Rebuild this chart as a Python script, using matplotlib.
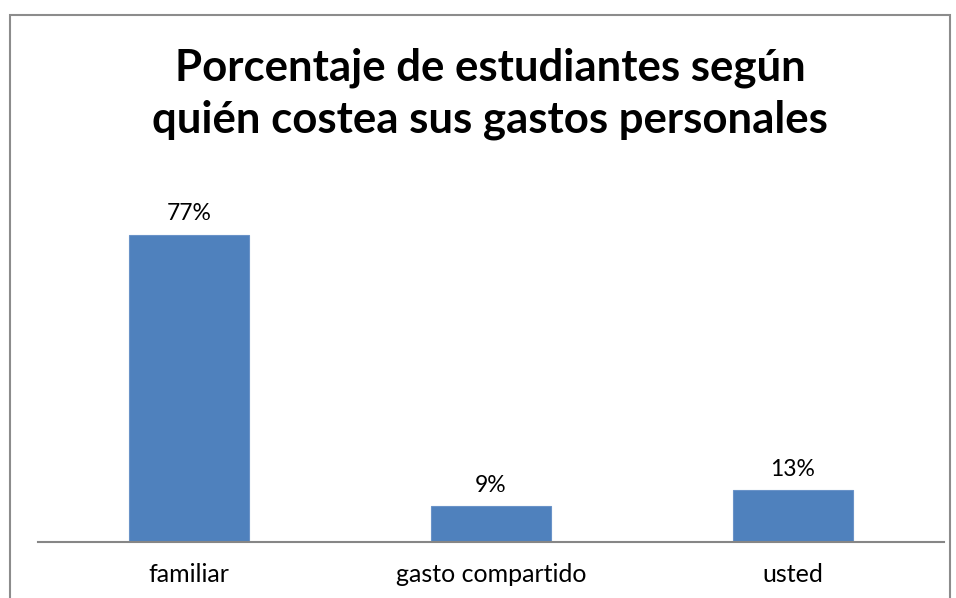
import matplotlib
matplotlib.use("Agg")
import matplotlib.pyplot as plt
from matplotlib.patches import Rectangle

categories = ["familiar", "gasto compartido", "usted"]
values = [77, 9, 13]
labels = ["77%", "9%", "13%"]
title_lines = ["Porcentaje de estudiantes según", "quién costea sus gastos personales"]

plt.rcParams['font.family'] = ['Lato', 'DejaVu Sans']

W, H = 956, 598
fig = plt.figure(figsize=(W/100, H/100), dpi=100)
fig.patch.set_facecolor("white")

# border
fig.add_artist(Rectangle((10/W, -0.1), 940/W, 1.1 - 15/H, transform=fig.transFigure,
                         fill=False, edgecolor="#8c8c8c", linewidth=1.5))

left, right = 38, 944
bottom = 542
ymax = 90
px_per = 307/77
top = bottom - ymax*px_per
ax = fig.add_axes([left/W, 1 - bottom/H, (right-left)/W, (bottom-top)/H])
x = range(len(categories))
ax.bar(x, values, width=0.4, color="#4f81bd", edgecolor="#6a93c8", linewidth=0.8)
ax.set_xlim(-0.5, len(categories) - 0.5)
ax.set_ylim(0, ymax)
for xi, v, lab in zip(x, values, labels):
    ax.annotate(lab, (xi, v), xytext=(0, 14.5), textcoords="offset pixels",
                ha="center", va="baseline", fontsize=16.5, color="black")
ax.set_xticks(list(x))
ax.set_xticklabels(categories, fontsize=18)
ax.tick_params(axis="x", length=0, pad=15)
ax.set_yticks([])
for s in ["left", "right", "top"]:
    ax.spines[s].set_visible(False)
ax.spines["bottom"].set_color("#868686")
ax.spines["bottom"].set_linewidth(1.5)
ax.patch.set_visible(False)

for line, yb in zip(title_lines, [81, 133]):
    fig.text(490/W, 1 - yb/H, line, ha="center", va="baseline",
             fontsize=31.5, fontweight="bold")

fig.savefig("out.png", dpi=100)
